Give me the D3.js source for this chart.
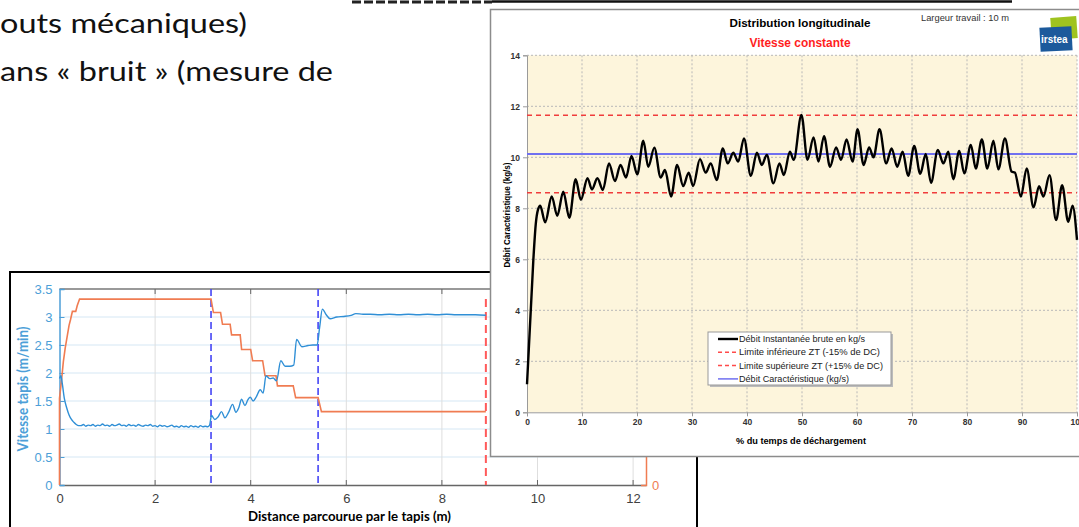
<!DOCTYPE html>
<html>
<head>
<meta charset="utf-8">
<script src="https://cdn.jsdelivr.net/npm/d3@7"></script>
<style>
  body { margin: 0; background: #fff; }
  svg { display: block; }
</style>
</head>
<body>
<div id="slide"></div>
<script>
// ---- slide text ----
const slideLines = ["outs mécaniques)", "ans « bruit » (mesure de"];

// ---- left chart : vitesse tapis ----
const tapisXTicks = [0, 2, 4, 6, 8, 10, 12];
const tapisYTicks = [0, 0.5, 1, 1.5, 2, 2.5, 3, 3.5];
// [distance (m), vitesse (m/min)]
const vitesseTapis = [
  [0, 1.9], [0.03, 1.95], [0.06, 1.8], [0.1, 1.55], [0.15, 1.38], [0.2, 1.25], [0.25, 1.17],
  [0.3, 1.12], [0.35, 1.08], [0.4, 1.06], [0.45, 1.06], [0.5, 1.08], [0.55, 1.05], [0.6, 1.07],
  [0.65, 1.06], [0.7, 1.08], [0.75, 1.05], [0.8, 1.07], [0.85, 1.06], [0.9, 1.09], [0.95, 1.06],
  [1.0, 1.07], [1.05, 1.05], [1.1, 1.08], [1.15, 1.06], [1.2, 1.07], [1.25, 1.09], [1.3, 1.06],
  [1.35, 1.07], [1.4, 1.05], [1.45, 1.08], [1.5, 1.06], [1.55, 1.07], [1.6, 1.05], [1.65, 1.08],
  [1.7, 1.06], [1.75, 1.05], [1.8, 1.07], [1.85, 1.06], [1.9, 1.08], [1.95, 1.05], [2.0, 1.06],
  [2.05, 1.04], [2.1, 1.07], [2.15, 1.05], [2.2, 1.06], [2.25, 1.04], [2.3, 1.05], [2.35, 1.07],
  [2.4, 1.04], [2.45, 1.05], [2.5, 1.03], [2.55, 1.06], [2.6, 1.04], [2.65, 1.05], [2.7, 1.03],
  [2.75, 1.06], [2.8, 1.04], [2.85, 1.05], [2.9, 1.03], [2.95, 1.06], [3.0, 1.04], [3.05, 1.05],
  [3.1, 1.04], [3.14, 1.07], [3.18, 1.24], [3.25, 1.17], [3.32, 1.22], [3.39, 1.31], [3.46, 1.2],
  [3.54, 1.3], [3.62, 1.44], [3.69, 1.3], [3.75, 1.38], [3.81, 1.53], [3.88, 1.42], [3.94, 1.52],
  [3.99, 1.57], [4.05, 1.5], [4.12, 1.58], [4.2, 1.7], [4.26, 1.64], [4.32, 1.95], [4.4, 1.9],
  [4.47, 1.91], [4.54, 1.86], [4.63, 2.22], [4.72, 2.12], [4.82, 2.12], [4.9, 2.14], [4.96, 2.6],
  [5.07, 2.47], [5.2, 2.49], [5.3, 2.5], [5.39, 2.5], [5.44, 2.8], [5.5, 3.14], [5.58, 3.04],
  [5.66, 2.97], [5.8, 3.0], [5.95, 3.01], [6.1, 3.03], [6.2, 3.06], [6.35, 3.05], [6.5, 3.05],
  [6.7, 3.04], [6.9, 3.05], [7.1, 3.04], [7.3, 3.05], [7.5, 3.04], [7.7, 3.05], [7.9, 3.04],
  [8.1, 3.05], [8.3, 3.04], [8.5, 3.04], [8.7, 3.04], [8.92, 3.03]
];
// [distance (m), consigne] (axe droit)
const consigneTapis = [
  [0, 0], [0, 1.55], [0.04, 1.85], [0.08, 2.2], [0.12, 2.45], [0.16, 2.65], [0.2, 2.85],
  [0.23, 2.95], [0.27, 3.1], [0.34, 3.1], [0.37, 3.2], [0.42, 3.32], [3.17, 3.32], [3.22, 3.08],
  [3.37, 3.08], [3.41, 2.87], [3.57, 2.87], [3.6, 2.68], [3.78, 2.68], [3.81, 2.42], [4.0, 2.42],
  [4.04, 2.22], [4.25, 2.22], [4.3, 1.95], [4.53, 1.95], [4.56, 1.77], [4.89, 1.77], [4.94, 1.56],
  [5.41, 1.56], [5.48, 1.31], [8.92, 1.31]
];
const changeMarks = [3.17, 5.41];
const endMark = [8.92];

// ---- right chart : distribution longitudinale ----
const pctTicks = [0, 10, 20, 30, 40, 50, 60, 70, 80, 90, 100];
const debitTicks = [0, 2, 4, 6, 8, 10, 12, 14];
// [% du temps de dechargement, debit (kg/s)]
const debitInstant = [
  [0, 1.1], [1.15, 5.97], [1.6, 7.4], [2.0, 7.95], [2.4, 8.1], [3.3, 7.45], [4.5, 8.46], [5.5, 7.71],
  [6.6, 8.65], [7.7, 7.63], [8.85, 9.14], [9.8, 8.33], [11.0, 9.18], [11.8, 8.74], [12.8, 9.18],
  [13.8, 8.72], [14.9, 9.76], [16.0, 9.07], [17.0, 9.7], [18.0, 9.21], [19.0, 10.05], [20.05, 9.33],
  [21.15, 10.65], [22.05, 9.63], [23.15, 10.38], [24.3, 9.21], [25.1, 9.5], [26.2, 8.46], [27.3, 9.7],
  [28.4, 8.87], [29.4, 9.4], [30.2, 8.87], [31.45, 9.93], [32.5, 9.4], [33.4, 9.76], [34.5, 9.11],
  [35.6, 10.35], [36.5, 9.76], [37.5, 10.18], [38.4, 9.83], [39.45, 10.74], [40.7, 9.27], [41.8, 10.18],
  [42.7, 9.7], [43.6, 10.09], [44.8, 8.98], [45.9, 9.76], [46.7, 9.3], [47.8, 10.22], [48.5, 9.9],
  [49.9, 11.66], [51.0, 9.9], [52.1, 10.78], [53.0, 9.83], [54.0, 10.83], [55.1, 9.63], [56.2, 10.39],
  [57.1, 9.9], [58.1, 10.7], [59.2, 9.83], [60.1, 11.1], [61.2, 9.7], [62.2, 10.39], [63.0, 10.0],
  [64.1, 11.1], [65.3, 9.76], [66.3, 10.35], [67.3, 9.63], [68.3, 10.22], [69.3, 9.27], [70.4, 10.45],
  [71.5, 9.35], [72.5, 10.13], [73.45, 9.0], [74.7, 10.29], [75.7, 9.76], [76.6, 10.22], [77.5, 9.14],
  [78.6, 10.25], [79.5, 9.37], [80.7, 10.48], [81.6, 9.56], [82.7, 10.7], [83.7, 9.56], [84.8, 10.65],
  [85.7, 9.53], [86.9, 10.74], [88.1, 9.44], [88.7, 9.4], [89.8, 8.46], [90.85, 9.56], [92.1, 8.04],
  [93.1, 8.87], [93.9, 8.46], [95.0, 9.3], [96.2, 7.54], [97.3, 8.91], [98.4, 7.47], [99.2, 8.1],
  [100, 6.76]
];
const debitCaract = 10.13;
const limiteInf = 8.61;
const limiteSup = 11.65;
const legendLabels = [
  "Débit Instantanée brute en kg/s",
  "Limite inférieure ZT (-15% de DC)",
  "Limite supérieure ZT (+15% de DC)",
  "Débit Caractéristique (kg/s)"
];

const W = 1079, H = 527;
const svg = d3.select("#slide").append("svg").attr("width", W).attr("height", H);

// ---------- slide text ----------
svg.append("g")
    .attr("font-family", "Lato, 'Open Sans', sans-serif")
    .attr("font-size", 27)
    .attr("fill", "#111")
  .selectAll("text")
  .data(slideLines)
  .join("text")
    .attr("x", 0)
    .attr("y", (d, i) => 33 + i * 48)
    .attr("textLength", (d, i) => i === 0 ? 247 : 333)
    .attr("lengthAdjust", "spacingAndGlyphs")
    .text(d => d);

// bits of the shape above the panel
svg.append("line").attr("x1", 352).attr("x2", 492).attr("y1", 2).attr("y2", 2)
  .attr("stroke", "#222").attr("stroke-width", 3).attr("stroke-dasharray", "9,3");
svg.append("line").attr("x1", 492).attr("x2", 1012).attr("y1", 1.5).attr("y2", 1.5)
  .attr("stroke", "#111").attr("stroke-width", 2.5);

// ---------- left chart ----------
const tp = {left: 59.5, right: 646, top: 289, bottom: 485};
const xT = d3.scaleLinear().domain([0, 12.27]).range([tp.left, tp.right]);
const yT = d3.scaleLinear().domain([0, 3.5]).range([tp.bottom, tp.top]);
const yT2 = d3.scaleLinear().domain([0, 3.5]).range([tp.bottom, tp.top]);
const blueTxt = "#4d9fd8", orange = "#f07c52";

const left = svg.append("g");
left.append("rect").attr("x", 10).attr("y", 272).attr("width", 687).attr("height", 270)
  .attr("fill", "#fff").attr("stroke", "#000").attr("stroke-width", 2);

left.append("g").selectAll("line").data(tapisYTicks.slice(1, -1)).join("line")
  .attr("x1", tp.left).attr("x2", tp.right).attr("y1", d => yT(d)).attr("y2", d => yT(d))
  .attr("stroke", "#d5e7f4").attr("stroke-width", 1);
left.append("g").selectAll("line").data(tapisXTicks.slice(1)).join("line")
  .attr("x1", d => xT(d)).attr("x2", d => xT(d)).attr("y1", tp.top).attr("y2", tp.bottom)
  .attr("stroke", "#dedede").attr("stroke-width", 1);

// bottom / top axes
const bottomAx = left.append("g").attr("transform", `translate(0,${tp.bottom})`)
  .call(d3.axisBottom(xT).tickValues(tapisXTicks).tickSize(0).tickPadding(9));
bottomAx.select(".domain").attr("stroke", "#666").attr("stroke-width", 1.5);
bottomAx.selectAll("text").attr("fill", "#404040").attr("font-size", 13)
  .attr("font-family", "'Liberation Sans', Arial, sans-serif");
left.append("g").selectAll("line").data(tapisXTicks.slice(1)).join("line")
  .attr("x1", d => xT(d)).attr("x2", d => xT(d)).attr("y1", tp.bottom - 5).attr("y2", tp.bottom)
  .attr("stroke", "#666");
left.append("line").attr("x1", tp.left).attr("x2", tp.right).attr("y1", tp.top).attr("y2", tp.top)
  .attr("stroke", "#777").attr("stroke-width", 1.5);
left.append("g").selectAll("line").data(tapisXTicks.slice(1)).join("line")
  .attr("x1", d => xT(d)).attr("x2", d => xT(d)).attr("y1", tp.top).attr("y2", tp.top + 5)
  .attr("stroke", "#666");

const leftAx = left.append("g").attr("transform", `translate(${tp.left},0)`)
  .call(d3.axisLeft(yT).tickValues(tapisYTicks).tickSize(-5).tickPadding(7)
    .tickFormat(d3.format("")));
leftAx.select(".domain").attr("stroke", blueTxt).attr("stroke-width", 1.5);
leftAx.selectAll("line").attr("stroke", blueTxt);
leftAx.selectAll("text").attr("fill", blueTxt).attr("font-size", 13)
  .attr("font-family", "'Liberation Sans', Arial, sans-serif");

// right (orange) axis
const rightAx = left.append("g").attr("transform", `translate(${tp.right},0)`)
  .call(d3.axisRight(yT2).tickValues([0]).tickSize(-5).tickPadding(6).tickFormat(d3.format("d")));
rightAx.select(".domain").attr("stroke", orange).attr("stroke-width", 1.5);
rightAx.selectAll("line").attr("stroke", orange);
rightAx.selectAll("text").attr("fill", orange).attr("font-size", 13)
  .attr("font-family", "'Liberation Sans', Arial, sans-serif");

// dashed markers
left.append("g").selectAll("line").data(changeMarks).join("line")
  .attr("x1", d => xT(d)).attr("x2", d => xT(d)).attr("y1", tp.top).attr("y2", tp.bottom)
  .attr("stroke", "#4646f5").attr("stroke-width", 1.6).attr("stroke-dasharray", "7,4");
left.append("g").selectAll("line").data(endMark).join("line")
  .attr("x1", d => xT(d)).attr("x2", d => xT(d)).attr("y1", 299).attr("y2", tp.bottom)
  .attr("stroke", "#ff5a5a").attr("stroke-width", 2).attr("stroke-dasharray", "8,5");

const lineT = d3.line().x(d => xT(d[0])).y(d => yT(d[1]));
left.append("path").datum(consigneTapis).attr("d", lineT.curve(d3.curveLinear))
  .attr("fill", "none").attr("stroke", orange).attr("stroke-width", 1.6);
left.append("path").datum(vitesseTapis).attr("d", lineT.curve(d3.curveMonotoneX))
  .attr("fill", "none").attr("stroke", "#2f8fd6").attr("stroke-width", 1.4);

left.append("text").attr("x", 349.5).attr("y", 521).attr("text-anchor", "middle")
  .attr("font-family", "Lato, 'Open Sans', sans-serif").attr("font-weight", "bold")
  .attr("font-size", 13).attr("textLength", 203).attr("lengthAdjust", "spacingAndGlyphs")
  .text("Distance parcourue par le tapis (m)");
left.append("text").attr("transform", "translate(28,389) rotate(-90)").attr("text-anchor", "middle")
  .attr("font-family", "Lato, 'Open Sans', sans-serif").attr("font-weight", "bold")
  .attr("font-size", 14.5).attr("fill", blueTxt)
  .attr("textLength", 125).attr("lengthAdjust", "spacingAndGlyphs")
  .text("Vitesse tapis (m/min)");

// ---------- right chart panel ----------
const dp = {left: 527, right: 1077, top: 55.3, bottom: 412.3};
const xD = d3.scaleLinear().domain([0, 100]).range([dp.left, dp.right]);
const yD = d3.scaleLinear().domain([0, 14]).range([dp.bottom, dp.top]);
const arial = "'Liberation Sans', Arial, sans-serif";

const right = svg.append("g");
right.append("rect").attr("x", 490.5).attr("y", 9.5).attr("width", 620).attr("height", 447)
  .attr("fill", "#fff").attr("stroke", "#8c8c8c").attr("stroke-width", 1.5);
right.append("rect").attr("x", dp.left).attr("y", dp.top)
  .attr("width", dp.right - dp.left).attr("height", dp.bottom - dp.top).attr("fill", "#fdf5dc");

right.append("g").selectAll("line").data(debitTicks.slice(1)).join("line")
  .attr("x1", dp.left).attr("x2", dp.right).attr("y1", d => yD(d)).attr("y2", d => yD(d))
  .attr("stroke", "#b8b8b8").attr("stroke-dasharray", "2,2");
right.append("g").selectAll("line").data(pctTicks.slice(1)).join("line")
  .attr("x1", d => xD(d)).attr("x2", d => xD(d)).attr("y1", dp.top).attr("y2", dp.bottom)
  .attr("stroke", "#b8b8b8").attr("stroke-dasharray", "2,2");

const axD = right.append("g").attr("transform", `translate(${dp.left},0)`)
  .call(d3.axisLeft(yD).tickValues(debitTicks).tickSize(4).tickPadding(3));
const axX = right.append("g").attr("transform", `translate(0,${dp.bottom})`)
  .call(d3.axisBottom(xD).tickValues(pctTicks).tickSize(4).tickPadding(3));
[axD, axX].forEach(a => {
  a.select(".domain").attr("stroke", "#9a9a9a");
  a.selectAll("line").attr("stroke", "#9a9a9a");
  a.selectAll("text").attr("fill", "#333").attr("font-size", 8.5).attr("font-weight", "bold")
    .attr("font-family", arial);
});

// reference lines
right.append("line").attr("x1", dp.left).attr("x2", dp.right)
  .attr("y1", yD(debitCaract)).attr("y2", yD(debitCaract))
  .attr("stroke", "#7070f0").attr("stroke-width", 2);
right.append("g").selectAll("line").data([limiteInf, limiteSup]).join("line")
  .attr("x1", dp.left).attr("x2", dp.right).attr("y1", d => yD(d)).attr("y2", d => yD(d))
  .attr("stroke", "#f03c3c").attr("stroke-width", 1.5).attr("stroke-dasharray", "5,4");

const lineD = d3.line().x(d => xD(d[0])).y(d => yD(d[1])).curve(d3.curveMonotoneX);
right.append("path").datum(debitInstant).attr("d", lineD)
  .attr("fill", "none").attr("stroke", "#000").attr("stroke-width", 2.4);

// titles
right.append("text").attr("x", 800).attr("y", 27).attr("text-anchor", "middle")
  .attr("font-family", arial).attr("font-weight", "bold").attr("font-size", 11.5)
  .attr("textLength", 141).attr("lengthAdjust", "spacingAndGlyphs")
  .text("Distribution longitudinale");
right.append("text").attr("x", 800).attr("y", 47).attr("text-anchor", "middle")
  .attr("font-family", arial).attr("font-weight", "bold").attr("font-size", 12)
  .attr("fill", "#ff1e1e").attr("textLength", 101).attr("lengthAdjust", "spacingAndGlyphs")
  .text("Vitesse constante");
right.append("text").attr("x", 921).attr("y", 21)
  .attr("font-family", arial).attr("font-size", 8.5).attr("fill", "#333")
  .attr("textLength", 88).attr("lengthAdjust", "spacingAndGlyphs")
  .text("Largeur travail :    10 m");
right.append("text").attr("x", 801).attr("y", 444).attr("text-anchor", "middle")
  .attr("font-family", arial).attr("font-weight", "bold").attr("font-size", 9)
  .attr("textLength", 130).attr("lengthAdjust", "spacingAndGlyphs")
  .text("% du temps de déchargement");
right.append("text").attr("transform", "translate(510,215) rotate(-90)").attr("text-anchor", "middle")
  .attr("font-family", arial).attr("font-weight", "bold").attr("font-size", 8.5)
  .attr("textLength", 105).attr("lengthAdjust", "spacingAndGlyphs")
  .text("Débit Caractéristique (kg/s)");

// logo
right.append("rect").attr("x", 1051).attr("y", 17).attr("width", 26).attr("height", 22)
  .attr("fill", "#9fc31f").attr("transform", "rotate(-4,1064,28)");
right.append("rect").attr("x", 1040).attr("y", 27).attr("width", 32).attr("height", 24)
  .attr("fill", "#1c5a9c").attr("transform", "rotate(-3,1056,39)");
right.append("text").attr("x", 1041).attr("y", 43).attr("fill", "#fff")
  .attr("font-family", arial).attr("font-weight", "bold").attr("font-size", 10).text("irstea");

// legend
const lg = right.append("g").attr("transform", "translate(708,332)");
lg.append("rect").attr("x", 2).attr("y", 2).attr("width", 183).attr("height", 53).attr("fill", "#bbb");
lg.append("rect").attr("width", 183).attr("height", 53).attr("fill", "#fff")
  .attr("stroke", "#999").attr("stroke-width", 1);
const legStyles = [
  {c: "#000", w: 2.4, dash: null},
  {c: "#ff4a4a", w: 1.5, dash: "4,3"},
  {c: "#ff4a4a", w: 1.5, dash: "4,3"},
  {c: "#7070f0", w: 1.5, dash: null}
];
const legEnds = [126, 141, 144, 110];
const lgItem = lg.selectAll("g").data(legendLabels).join("g")
  .attr("transform", (d, i) => `translate(0,${7 + i * 13.3})`);
lgItem.append("line").attr("x1", 10).attr("x2", 30)
  .attr("stroke", (d, i) => legStyles[i].c).attr("stroke-width", (d, i) => legStyles[i].w)
  .attr("stroke-dasharray", (d, i) => legStyles[i].dash);
lgItem.append("text").attr("x", 31).attr("dy", "0.35em")
  .attr("font-family", arial).attr("font-size", 9).attr("fill", "#222")
  .attr("textLength", (d, i) => legEnds[i]).attr("lengthAdjust", "spacingAndGlyphs")
  .text(d => d);
</script>
</body>
</html>
